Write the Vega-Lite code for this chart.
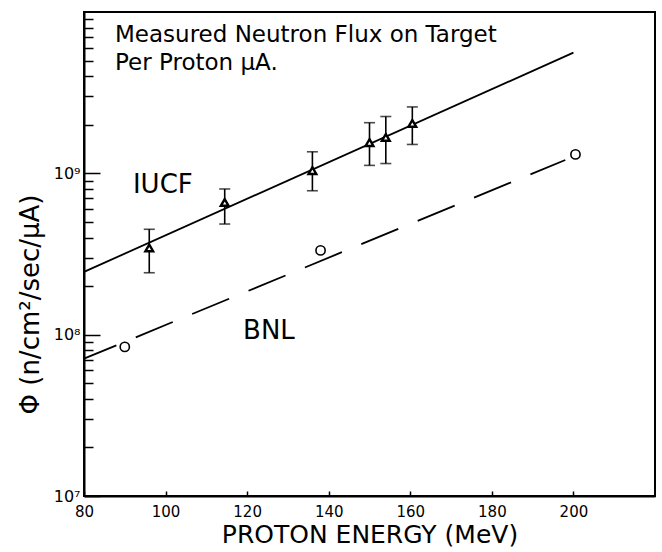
{
  "$schema": "https://vega.github.io/schema/vega-lite/v6.json",
  "width": 571,
  "height": 484,
  "autosize": "none",
  "padding": {"left": 84, "top": 12, "right": 7, "bottom": 56},
  "background": "white",
  "config": {
    "view": {"stroke": "black", "strokeWidth": 2},
    "font": "DejaVu Sans",
    "axis": {"domainColor": "black", "domainWidth": 2, "tickColor": "black", "labelColor": "black", "titleColor": "black", "grid": false, "titleFontWeight": "normal", "labelFont": "DejaVu Sans", "titleFont": "DejaVu Sans"}
  },
  "datasets": {
    "iucf": [
      {"E": 96, "flux": 3.45e8, "lo": 2.42e8, "hi": 4.5e8},
      {"E": 114.5, "flux": 6.6e8, "lo": 4.85e8, "hi": 8.0e8},
      {"E": 136, "flux": 1.04e9, "lo": 7.8e8, "hi": 1.36e9},
      {"E": 150, "flux": 1.55e9, "lo": 1.12e9, "hi": 2.06e9},
      {"E": 154, "flux": 1.67e9, "lo": 1.15e9, "hi": 2.25e9},
      {"E": 160.5, "flux": 2.04e9, "lo": 1.51e9, "hi": 2.58e9}
    ],
    "bnl": [
      {"E": 90, "flux": 8.4e7},
      {"E": 138, "flux": 3.33e8},
      {"E": 200.5, "flux": 1.31e9}
    ],
    "iucf_fit": [
      {"E": 80, "flux": 2.45e8},
      {"E": 200, "flux": 5.6e9}
    ],
    "bnl_fit": [
      {"E": 80, "flux": 7.1e7},
      {"E": 198, "flux": 1.21e9}
    ],
    "title_lines": [
      {"E": 87.6, "flux": 7.21e9, "label": "Measured Neutron Flux on Target"},
      {"E": 87.6, "flux": 4.83e9, "label": "Per Proton μA."}
    ],
    "series_labels": [
      {"E": 92, "flux": 8.42e8, "label": "IUCF"},
      {"E": 119, "flux": 1.05e8, "label": "BNL"}
    ]
  },
  "encoding": {
    "x": {
      "field": "E", "type": "quantitative",
      "scale": {"domain": [80, 220], "nice": false, "zero": false},
      "axis": {
        "values": [80, 100, 120, 140, 160, 180, 200],
        "tickSize": -5, "tickWidth": 1.5,
        "labelFontSize": 15, "labelPadding": 13, "labelFlush": false,
        "title": "PROTON ENERGY (MeV)", "titleFontSize": 25, "titlePadding": 3
      }
    },
    "y": {
      "field": "flux", "type": "quantitative",
      "scale": {"type": "log", "domain": [1e7, 1e10], "nice": false},
      "axis": {
        "values": [1e7, 2e7, 3e7, 4e7, 5e7, 6e7, 7e7, 8e7, 9e7, 1e8, 2e8, 3e8, 4e8, 5e8, 6e8, 7e8, 8e8, 9e8, 1e9, 2e9, 3e9, 4e9, 5e9, 6e9, 7e9, 8e9, 9e9],
        "labelExpr": "datum.value == 1e7 ? '10⁷' : datum.value == 1e8 ? '10⁸' : datum.value == 1e9 ? '10⁹' : ''",
        "tickSize": {"condition": {"test": "datum.value == 1e7 || datum.value == 1e8 || datum.value == 1e9", "value": -16}, "value": -9},
        "tickWidth": 1.5,
        "labelFontSize": 16, "labelPadding": 20,
        "title": "Φ (n/cm²/sec/μA)", "titleFontSize": 26, "titlePadding": 10, "titleY": 292
      }
    }
  },
  "layer": [
    {
      "data": {"name": "iucf_fit"},
      "mark": {"type": "line", "color": "black", "strokeWidth": 1.8}
    },
    {
      "data": {"name": "bnl_fit"},
      "mark": {"type": "line", "color": "black", "strokeWidth": 1.8, "strokeDash": [40, 21], "strokeDashOffset": 5}
    },
    {
      "data": {"name": "iucf"},
      "mark": {"type": "rule", "color": "black", "strokeWidth": 1.6},
      "encoding": {
        "y": {"field": "lo", "type": "quantitative"},
        "y2": {"field": "hi"}
      }
    },
    {
      "data": {"name": "iucf"},
      "mark": {"type": "tick", "orient": "horizontal", "size": 11, "thickness": 1.6, "color": "black"},
      "encoding": {"y": {"field": "lo", "type": "quantitative"}}
    },
    {
      "data": {"name": "iucf"},
      "mark": {"type": "tick", "orient": "horizontal", "size": 11, "thickness": 1.6, "color": "black"},
      "encoding": {"y": {"field": "hi", "type": "quantitative"}}
    },
    {
      "data": {"name": "iucf"},
      "mark": {"type": "point", "shape": "triangle-up", "filled": true, "color": "white", "stroke": "black", "strokeWidth": 2.4, "size": 60, "opacity": 1}
    },
    {
      "data": {"name": "bnl"},
      "mark": {"type": "point", "shape": "circle", "filled": true, "color": "white", "stroke": "black", "strokeWidth": 1.6, "size": 85, "opacity": 1}
    },
    {
      "data": {"name": "title_lines"},
      "mark": {"type": "text", "align": "left", "baseline": "middle", "fontSize": 23, "color": "black"},
      "encoding": {"text": {"field": "label"}}
    },
    {
      "data": {"name": "series_labels"},
      "mark": {"type": "text", "align": "left", "baseline": "middle", "fontSize": 26, "color": "black"},
      "encoding": {"text": {"field": "label"}}
    }
  ]
}
